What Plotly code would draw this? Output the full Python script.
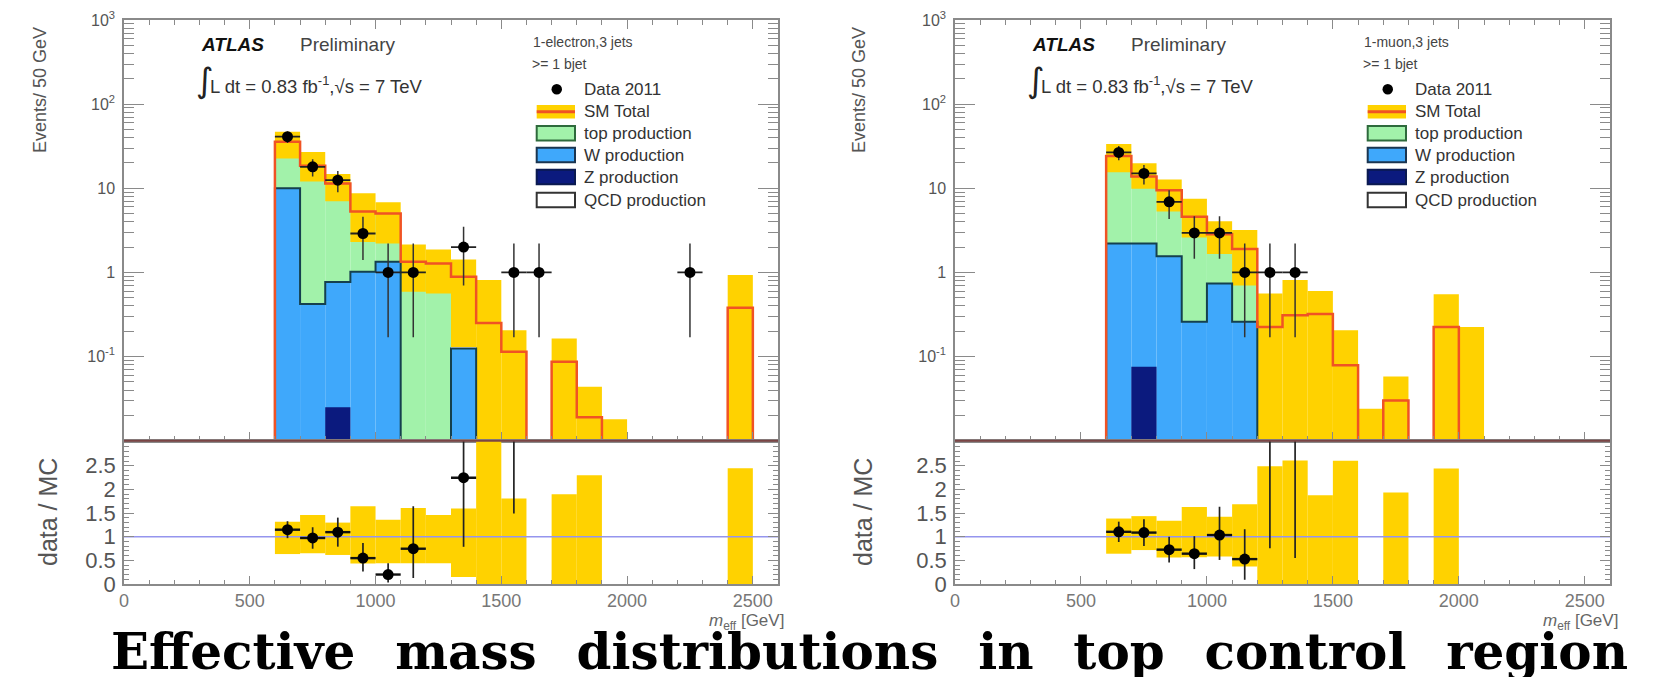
import plotly.graph_objects as go

# ---------------- data ----------------
BIN = 100
# electron channel (left)
E_LO = [600, 700, 800, 900, 1000, 1100, 1200, 1300, 1400, 1500, 1600, 1700, 1800, 1900, 2000, 2100, 2200, 2300, 2400]
E_W = [10, 0.42, 0.77, 1.02, 1.34, 0, 0, 0.125, 0, 0, 0, 0, 0, 0, 0, 0, 0, 0, 0]
E_TOP = [25.7, 18.1, 10.6, 4.3, 3.7, 1.34, 1.28, 0, 0, 0, 0, 0, 0, 0, 0, 0, 0, 0, 0]
E_Z = [0, 0, 0.025, 0, 0, 0, 0, 0, 0, 0, 0, 0, 0, 0, 0, 0, 0, 0, 0]
E_SM = [35.7, 18.5, 11.4, 5.3, 5.0, 1.34, 1.28, 0.89, 0.25, 0.114, 0, 0.0865, 0.019, 0, 0, 0, 0, 0, 0.38]
E_BAND_HI = [47, 27, 14.8, 8.7, 6.8, 2.15, 1.87, 1.42, 0.81, 0.206, None, 0.164, 0.0437, 0.018, None, None, None, None, 0.93]
E_BAND_LO = [22.6, 12.0, 7.0, 2.3, 2.2, 0.59, 0.56, 0.13, 0, 0, None, 0, 0, 0, None, None, None, None, 0]
E_DATA_X = [650, 750, 850, 950, 1050, 1150, 1350, 1550, 1650, 2250]
E_DATA = [41, 18, 12.5, 2.9, 1, 1, 2, 1, 1, 1]
E_ERR_UP = [6.4, 4.2, 3.5, 1.7, 1.2, 1.2, 1.5, 1.2, 1.2, 1.2]
E_ERR_DN = [6.4, 4.2, 3.5, 1.5, 0.83, 0.83, 1.3, 0.83, 0.83, 0.83]

# muon channel (right)
M_LO = [600, 700, 800, 900, 1000, 1100, 1200, 1300, 1400, 1500, 1600, 1700, 1800, 1900, 2000]
M_W = [2.2, 2.2, 1.56, 0.26, 0.74, 0.26, 0, 0, 0, 0, 0, 0, 0, 0, 0]
M_TOP = [22.0, 11.5, 7.9, 4.3, 2.1, 1.6, 0, 0, 0, 0, 0, 0, 0, 0, 0]
M_Z = [0, 0.0755, 0, 0, 0, 0, 0, 0, 0, 0, 0, 0, 0, 0, 0]
M_SM = [24.2, 13.8, 9.5, 4.6, 2.85, 1.9, 0.225, 0.31, 0.32, 0.079, 0, 0.030, 0, 0.225, 0]
M_BAND_HI = [33.5, 19.8, 12.7, 7.5, 4.05, 3.2, 0.56, 0.81, 0.6, 0.206, 0.024, 0.058, None, 0.55, 0.225]
M_BAND_LO = [15.5, 9.9, 5.3, 2.6, 1.65, 0.7, 0, 0, 0, 0, 0, 0, None, 0, 0]
M_DATA_X = [650, 750, 850, 950, 1050, 1150, 1250, 1350]
M_DATA = [26.7, 15, 6.9, 2.95, 2.95, 1, 1, 1]
M_ERR_UP = [5.2, 3.9, 2.6, 1.7, 1.7, 1.2, 1.2, 1.2]
M_ERR_DN = [5.2, 3.9, 2.6, 1.5, 1.5, 0.83, 0.83, 0.83]

Y_TICKS = [0.1, 1, 10, 100, 1000]
Y_TICKTEXT = ["10<sup>-1</sup>", "1", "10", "10<sup>2</sup>", "10<sup>3</sup>"]
R_TICKS = [0, 0.5, 1, 1.5, 2, 2.5]
R_TICKTEXT = ["0", "0.5", "1", "1.5", "2", "2.5"]
X_TICKS = [0, 500, 1000, 1500, 2000, 2500]
LEGEND_LABELS = ["Data 2011", "SM Total", "top production", "W production", "Z production", "QCD production"]
TITLE_WORDS = ["Effective", "mass", "distributions", "in", "top", "control", "region"]

# ---------------- style ----------------
WIDTH, HEIGHT = 1653, 677
FLOOR = 1e-5
YELLOW = "#ffd200"
GREEN = "#a2f2aa"
BLUE = "#3fa8fb"
NAVY = "#0b1a7e"
RED = "#f05324"
WLINE = "#15404e"
FRAME = "#8a8a8a"
SANS = "Liberation Sans, Arial, sans-serif"


def px(x):
    return x / WIDTH


def py(y):
    return 1 - y / HEIGHT


fig = go.Figure()


def step_xy(lo, vals):
    xs = [lo[0]] + list(lo) + [lo[-1] + BIN]
    ys = [FLOOR] + [v if v and v > 0 else FLOOR for v in vals] + [FLOOR]
    return xs, ys


def add_panel(xu, yu, xl, yl, lo, w, top, z, sm, bhi, blo, dx, dd, eu, ed):
    c = [e + BIN / 2 for e in lo]
    # stack
    fig.add_trace(go.Bar(x=c, y=w, base=[FLOOR] * len(c), width=BIN, marker=dict(color=BLUE, line=dict(width=0)),
                         xaxis=xu, yaxis=yu))
    fig.add_trace(go.Bar(x=c, y=top, base=[v if v > 0 else FLOOR for v in w], width=BIN,
                         marker=dict(color=GREEN, line=dict(width=0)), xaxis=xu, yaxis=yu))
    fig.add_trace(go.Bar(x=c, y=z, base=[FLOOR] * len(c), width=BIN, marker=dict(color=NAVY, line=dict(width=0)),
                         xaxis=xu, yaxis=yu))
    xs, ys = step_xy(lo, w)
    fig.add_trace(go.Scatter(x=xs, y=ys, mode="lines", line=dict(color=WLINE, width=2, shape="hv"),
                             xaxis=xu, yaxis=yu))
    # uncertainty band
    bx, bb, bh = [], [], []
    for ci, hi, lw in zip(c, bhi, blo):
        if hi is None:
            continue
        base = lw if lw > 0 else FLOOR
        bx.append(ci)
        bb.append(base)
        bh.append(hi - base)
    fig.add_trace(go.Bar(x=bx, y=bh, base=bb, width=BIN, marker=dict(color=YELLOW, line=dict(width=0)),
                         xaxis=xu, yaxis=yu))
    # SM total
    xs, ys = step_xy(lo, sm)
    fig.add_trace(go.Scatter(x=xs, y=ys, mode="lines", line=dict(color=RED, width=2.5, shape="hv"),
                             xaxis=xu, yaxis=yu))
    # data
    fig.add_trace(go.Scatter(x=dx, y=dd, mode="markers", marker=dict(color="black", size=11),
                             error_y=dict(type="data", symmetric=False, array=eu, arrayminus=ed,
                                          color="#333", thickness=1.5, width=0),
                             error_x=dict(type="constant", value=BIN / 2, color="#222", thickness=1.8, width=0),
                             xaxis=xu, yaxis=yu))
    # ratio panel
    fig.add_trace(go.Scatter(x=[0, 2600], y=[1, 1], mode="lines", line=dict(color="#9595ee", width=1.5),
                             xaxis=xl, yaxis=yl))
    rx, rb, rh = [], [], []
    for ci, hi, lw, s in zip(c, bhi, blo, sm):
        if hi is None or not s:
            continue
        rx.append(ci)
        rb.append(lw / s)
        rh.append((hi - lw) / s)
    fig.add_trace(go.Bar(x=rx, y=rh, base=rb, width=BIN, marker=dict(color=YELLOW, line=dict(width=0)),
                         xaxis=xl, yaxis=yl))
    smap = dict(zip(c, sm))
    qx, qy, qu, qd = [], [], [], []
    for xi, di, u, d in zip(dx, dd, eu, ed):
        s = smap.get(xi, 0)
        if not s:
            continue
        qx.append(xi)
        qy.append(di / s)
        qu.append(u / s)
        qd.append(d / s)
    fig.add_trace(go.Scatter(x=qx, y=qy, mode="markers", marker=dict(color="black", size=11),
                             error_y=dict(type="data", symmetric=False, array=qu, arrayminus=qd,
                                          color="#222", thickness=1.7, width=0),
                             error_x=dict(type="constant", value=BIN / 2, color="#111", thickness=2.4, width=0),
                             xaxis=xl, yaxis=yl))


add_panel("x", "y", "x2", "y2", E_LO, E_W, E_TOP, E_Z, E_SM, E_BAND_HI, E_BAND_LO,
          E_DATA_X, E_DATA, E_ERR_UP, E_ERR_DN)
add_panel("x3", "y3", "x4", "y4", M_LO, M_W, M_TOP, M_Z, M_SM, M_BAND_HI, M_BAND_LO,
          M_DATA_X, M_DATA, M_ERR_UP, M_ERR_DN)

# ---------------- axes ----------------
LEFT_DOM = [px(124), px(778)]
RIGHT_DOM = [px(955), px(1610)]
UP_DOM = [py(440.7), py(20)]
LO_DOM = [py(584), py(440.7)]

frame = dict(showline=True, linecolor=FRAME, linewidth=1.5, ticks="inside", tickcolor=FRAME,
             showgrid=False, zeroline=False, mirror="ticks", automargin=False)


def xup(dom, anchor):
    return dict(frame, domain=dom, anchor=anchor, range=[0, 2600], tickmode="array", tickvals=X_TICKS,
                ticklen=9, showticklabels=False,
                minor=dict(ticks="inside", dtick=100, tick0=0, ticklen=5, tickcolor=FRAME))


def xlo(dom, anchor):
    return dict(frame, domain=dom, anchor=anchor, range=[0, 2600], tickmode="array", tickvals=X_TICKS,
                ticklen=8, showticklabels=True, mirror=True,
                tickfont=dict(family=SANS, size=18, color="#777"),
                minor=dict(ticks="inside", dtick=100, tick0=0, ticklen=4, tickcolor=FRAME))


def yup(anchor):
    return dict(frame, domain=UP_DOM, anchor=anchor, type="log", range=[-2, 3], tickmode="array",
                tickvals=Y_TICKS, ticktext=Y_TICKTEXT, ticklen=20,
                tickfont=dict(family=SANS, size=16, color="#555"), ticklabelstandoff=4,
                minor=dict(ticks="inside", dtick="D1", ticklen=10, tickcolor=FRAME))


def ylo(anchor):
    return dict(frame, domain=LO_DOM, anchor=anchor, range=[0, 3.03], tickmode="array",
                tickvals=R_TICKS, ticktext=R_TICKTEXT, ticklen=10,
                tickfont=dict(family=SANS, size=22, color="#555"), ticklabelstandoff=2,
                minor=dict(ticks="inside", dtick=0.1, tick0=0, ticklen=5, tickcolor=FRAME))


fig.update_layout(
    width=WIDTH, height=HEIGHT, margin=dict(l=0, r=0, t=0, b=0, pad=0, autoexpand=False),
    paper_bgcolor="white", plot_bgcolor="white", showlegend=False, barmode="overlay",
    xaxis=xup(LEFT_DOM, "y"), yaxis=yup("x"),
    xaxis2=xlo(LEFT_DOM, "y2"), yaxis2=ylo("x2"),
    xaxis3=xup(RIGHT_DOM, "y3"), yaxis3=yup("x3"),
    xaxis4=xlo(RIGHT_DOM, "y4"), yaxis4=ylo("x4"),
)

# ---------------- decorations (annotations / legend) ----------------
ann = []
shapes = []
CHANNEL = [("1-electron,3 jets", 0), ("1-muon,3 jets", 831)]
for chan, off in CHANNEL:
    x0 = 124 + off
    x1 = 778 if off == 0 else 1610
    shapes.append(dict(type="line", xref="paper", yref="paper", x0=px(x0), x1=px(x1), y0=py(440.7),
                       y1=py(440.7), line=dict(color="#7a4545", width=2)))
    ann += [
        dict(x=px(199 + off), y=py(45), text="<b><i>ATLAS</i></b>", font=dict(family=SANS, size=19, color="#111"),
             xanchor="left"),
        dict(x=px(298 + off), y=py(45), text="Preliminary", font=dict(family=SANS, size=19, color="#444"),
             xanchor="left"),
        dict(x=px(194 + off), y=py(80), text="∫", font=dict(family="DejaVu Sans", size=34, color="#222"),
             xanchor="left"),
        dict(x=px(208 + off), y=py(85), text="L dt = 0.83 fb<sup>-1</sup>,√s = 7 TeV",
             font=dict(family=SANS, size=18.5, color="#333"), xanchor="left"),
        dict(x=px(531 + off), y=py(42), text=chan, font=dict(family=SANS, size=14, color="#444"),
             xanchor="left"),
        dict(x=px(530 + off), y=py(64), text="&gt;= 1 bjet", font=dict(family=SANS, size=14, color="#444"),
             xanchor="left"),
        dict(x=px(28 + off), y=py(90), text="Events/ 50 GeV", textangle=-90,
             font=dict(family=SANS, size=18, color="#555")),
        dict(x=px(32 + off), y=py(512), text="data / MC", textangle=-90,
             font=dict(family=SANS, size=25, color="#555")),
        dict(x=px(786 if off == 0 else 1620), y=py(622), text="<i>m</i><sub>eff</sub> [GeV]",
             font=dict(family=SANS, size=17, color="#666"), xanchor="right"),
    ]
    rows = [89.3, 111.7, 133.3, 155, 177, 200]
    for lab, yy in zip(LEGEND_LABELS, rows):
        ann.append(dict(x=px(581.7 + off), y=py(yy), text=lab, font=dict(family=SANS, size=17, color="#333"),
                        xanchor="left"))
    bx0, bx1 = px(536.7 + off), px(575 + off)
    shapes.append(dict(type="circle", xref="paper", yref="paper", x0=px(551.5 + off), x1=px(562 + off),
                       y0=py(94.5), y1=py(84), fillcolor="black", line=dict(width=0)))
    shapes.append(dict(type="rect", xref="paper", yref="paper", x0=bx0, x1=bx1, y0=py(118.5), y1=py(105),
                       fillcolor=YELLOW, line=dict(width=0)))
    shapes.append(dict(type="line", xref="paper", yref="paper", x0=bx0, x1=bx1, y0=py(111.7), y1=py(111.7),
                       line=dict(color=RED, width=3)))
    box_styles = [(133.3, GREEN, "#2e6a3c"), (155, BLUE, "#1b3550"), (177, NAVY, "#0b1a50"), (200, "white", "#333")]
    for yy, fc, lc in box_styles:
        shapes.append(dict(type="rect", xref="paper", yref="paper", x0=bx0, x1=bx1, y0=py(yy + 7.2),
                           y1=py(yy - 7.2), fillcolor=fc, line=dict(color=lc, width=2)))

for a in ann:
    a.setdefault("xref", "paper")
    a.setdefault("yref", "paper")
    a.setdefault("showarrow", False)
    a.setdefault("yanchor", "middle")

title_text = "&nbsp;\u200a ".join(TITLE_WORDS)
ann.append(dict(x=px(869), y=py(651), xref="paper", yref="paper", showarrow=False, text="<b>" + title_text + "</b>",
                font=dict(family="DejaVu Serif", size=50, color="black"), xanchor="center", yanchor="middle"))

fig.update_layout(annotations=ann, shapes=shapes)
fig.write_html("out.html", config={"displayModeBar": False},
               post_script="document.body.style.margin='0px';")
